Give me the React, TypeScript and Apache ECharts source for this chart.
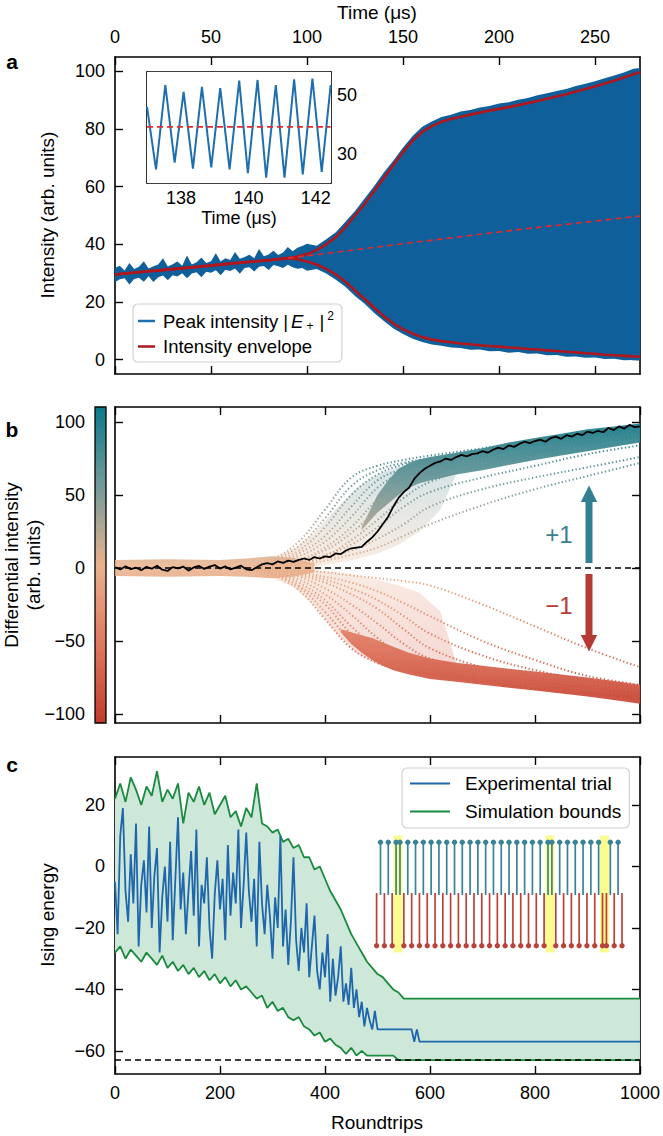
import React, { useEffect, useRef } from "react";
import * as echarts from "echarts";

const FONT = "'Liberation Sans', Arial, Helvetica, sans-serif";
const fmt = (v: number) => (v < 0 ? "\u2212" + Math.abs(v) : String(v));

// ---------------- Panel a ----------------
const timeTicks = [0, 50, 100, 150, 200, 250];
const intensityTicks = [0, 20, 40, 60, 80, 100];

const blueT = [
  0, 2.5, 5, 7.5, 10, 12.5, 15, 17.5, 20, 22.5, 25, 27.5, 30, 32.5, 35, 37.5, 40, 42.5, 45, 47.5,
  50, 52.5, 55, 57.5, 60, 62.5, 65, 67.5, 70, 72.5, 75, 77.5, 80, 82.5, 85, 87.5, 90, 92.5, 95, 97.5, 100,
  105, 110, 115, 120, 125, 130, 135, 140, 145, 150, 155, 160, 165, 170, 175, 180, 185, 190, 195, 200,
  205, 210, 215, 220, 225, 230, 235, 240, 245, 250, 255, 260, 265, 270, 273.4,
];
const blueHi = [
  31.8, 32.6, 30.9, 33.5, 31.4, 32.2, 34.1, 31.6, 32.4, 33.0, 35.2, 32.3, 33.1, 34.0, 32.6, 36.1, 33.0, 33.8, 35.4, 33.5,
  34.1, 36.9, 34.0, 35.2, 34.6, 37.3, 35.0, 35.6, 36.4, 35.2, 38.4, 35.9, 36.5, 37.8, 36.3, 37.2, 39.1, 37.6, 38.8, 39.4, 40.2,
  39.5, 41.8, 44.2, 47.8, 51.6, 55.9, 60.2, 64.9, 69.1, 73.6, 77.6, 80.8, 82.6, 84.2, 85.0, 86.1, 86.6, 87.5, 88.0, 88.9,
  89.3, 90.2, 90.8, 91.7, 92.4, 93.2, 93.9, 94.9, 95.7, 96.6, 97.6, 98.6, 99.6, 100.9, 101.2,
];
const blueLo = [
  26.8, 27.9, 28.2, 26.1, 28.0, 28.4, 27.0, 28.9, 26.9, 28.6, 29.2, 27.5, 29.3, 28.8, 30.0, 28.2, 29.9, 30.3, 28.6, 30.5,
  30.1, 31.0, 29.3, 31.2, 30.7, 31.6, 29.8, 31.8, 32.0, 30.6, 32.2, 32.5, 31.1, 32.8, 32.4, 31.8, 32.9, 32.0, 31.5, 31.8, 30.8,
  31.4, 29.9, 27.7, 25.3, 22.1, 19.4, 16.2, 13.4, 10.8, 8.9, 7.2, 6.1, 5.2, 4.8, 4.2, 4.0, 3.4, 3.5, 2.9, 3.0,
  2.4, 2.6, 2.0, 2.1, 1.5, 1.6, 1.0, 1.1, 0.6, 0.7, 0.2, 0.3, -0.2, -0.1, -0.3,
];
const envT = [
  0, 20, 40, 60, 80, 90, 95, 100, 105, 110, 115, 120, 125, 130, 135, 140, 145, 150, 155, 160, 165, 170,
  175, 180, 185, 190, 195, 200, 205, 210, 215, 220, 225, 230, 235, 240, 245, 250, 255, 260, 265, 270, 273.4,
];
const envUpper = [
  29.5, 30.8, 32.0, 33.3, 34.5, 35.2, 35.8, 36.6, 38, 40, 42.5, 46, 50, 54, 58.5, 63, 67.5, 72, 76, 79, 81, 82.5,
  83.5, 84.3, 85, 85.7, 86.4, 87, 87.6, 88.3, 89, 89.7, 90.5, 91.3, 92.1, 93, 93.9, 94.8, 95.8, 96.8, 97.9, 99, 99.7,
];
const envLower = [
  29.5, 30.8, 32.0, 33.3, 34.5, 35.2, 34.8, 34.0, 33, 31.5, 29.5, 27, 24, 21, 18, 15, 12.5, 10.5, 9, 7.8, 7, 6.4,
  6, 5.6, 5.3, 5, 4.7, 4.5, 4.2, 4, 3.7, 3.5, 3.2, 3, 2.7, 2.5, 2.2, 2, 1.7, 1.5, 1.3, 1.1, 1,
];
const meanT = [90, 150, 210, 273.4];
const meanV = [35.2, 40.2, 45.1, 49.8];

// inset
const insetT = [
  136.99, 137.257, 137.533, 137.81, 138.076, 138.353, 138.62, 138.896, 139.163, 139.44, 139.726,
  139.983, 140.27, 140.526, 140.812, 141.07, 141.356, 141.612, 141.899, 142.175, 142.44,
];
const insetV = [
  46, 24.8, 53.4, 27.1, 51.1, 25.1, 52.8, 25.5, 52.3, 24.8, 54.9, 23.5, 55.1, 22.0, 53.4, 22.0, 55.3, 23.1, 55.6, 24.0, 53.4,
];
const insetMean = 39.2;
const insetXTicks = [138, 140, 142];
const insetYTicks = [30, 50];

// ---------------- Panel b ----------------
const rtTicks = [0, 200, 400, 600, 800, 1000];
const diffTicks = [-100, -50, 0, 50, 100];
const B_MIN = -106.2;
const B_MAX = 110.3;

const noiseX = [0, 100, 200, 250, 300, 340, 380];
const noiseLo = [-5.5, -6, -5.5, -6, -7, -6, -3];
const noiseHi = [5.5, 6, 5.5, 6.5, 8, 7, 3];

const fanX = [270, 300, 340, 380, 420, 460, 500, 540, 580, 620, 650];
const fanUpLo = [0, 0, 0, 1, 3, 6, 10, 16, 25, 40, 64];
const fanUpHi = [4, 7, 13, 24, 40, 55, 64, 69, 73, 77, 79];
const fanDownLo = [-4, -7, -13, -26, -44, -58, -66, -70, -73, -75, -78];
const fanDownHi = [0, 0, 0, -1, -3, -5, -8, -12, -17, -30, -65];

const upX = [470, 500, 520, 540, 560, 580, 600, 650, 700, 750, 800, 850, 900, 950, 1000];
const upLo = [26, 38, 44, 50, 55, 58, 60, 64, 67, 70.5, 74, 77, 80, 83, 86];
const upHi = [28, 50, 60, 68, 72, 74.5, 76, 79, 82, 86, 89, 92, 95, 97, 99];

const downX = [430, 450, 470, 490, 510, 530, 560, 600, 650, 700, 750, 800, 850, 900, 950, 1000];
const downLo = [-44, -52, -58, -63, -67, -70, -73, -76, -78, -80, -82, -84, -86, -88, -90.5, -93];
const downHi = [-42, -44, -46, -48, -51, -54, -58, -62, -65, -67, -69, -71, -73, -75, -77.5, -80];

const trajX = [250, 300, 350, 400, 450, 500, 550, 600, 700, 800, 900, 1000];
const upTraj1 = [0, 6, 18, 40, 62, 70, 74, 77, 82, 88, 93, 97];
const upTraj2 = [0, 4, 12, 28, 50, 64, 71, 75, 80, 86, 92, 96];
const upTraj3 = [0, 3, 8, 18, 35, 55, 66, 72, 78, 84, 90, 94];
const upTraj4 = [0, 2, 6, 12, 24, 40, 55, 64, 73, 80, 87, 91];
const upTraj5 = [0, 1, 4, 9, 16, 28, 42, 52, 62, 70, 78, 84];
const upTraj6 = [0, 1, 3, 7, 12, 20, 30, 42, 54, 62, 69, 76];
const upTraj7 = [0, 0, 2, 5, 9, 14, 22, 30, 43, 54, 63, 72];
const upTraj8 = [0, 5, 15, 34, 56, 67, 72, 75, 81, 87, 92, 96];
const upTraj9 = [0, 3, 10, 22, 42, 60, 68, 73, 79, 85, 91, 95];
const upTraj10 = [0, 2, 5, 14, 28, 47, 61, 69, 76, 83, 89, 93];
const upTraj11 = [0, 1, 3, 8, 19, 33, 48, 59, 70, 78, 85, 90];
const downTraj1 = [0, -5, -15, -35, -55, -65, -70, -73, -78, -83, -86, -90];
const downTraj2 = [0, -4, -12, -25, -45, -58, -66, -70, -76, -80, -85, -88];
const downTraj3 = [0, -3, -8, -18, -32, -48, -60, -66, -73, -78, -82, -86];
const downTraj4 = [0, -2, -5, -10, -18, -28, -42, -55, -68, -75, -80, -84];
const downTraj5 = [0, -1, -3, -6, -10, -16, -24, -33, -50, -63, -74, -80];
const downTraj6 = [0, -1, -2, -3, -5, -7, -9, -12, -25, -40, -55, -68];
const downTraj7 = [0, -4, -13, -30, -50, -62, -68, -72, -77, -82, -86, -89];
const downTraj8 = [0, -3, -10, -22, -40, -55, -64, -69, -75, -80, -84, -88];
const downTraj9 = [0, -2, -6, -14, -25, -38, -52, -62, -71, -77, -82, -86];
const downTraj10 = [0, -1, -4, -8, -14, -22, -33, -45, -60, -70, -77, -82];

const trialX = [
  0, 10, 20, 30, 40, 50, 60, 70, 80, 90, 100, 110, 120, 130, 140, 150, 160, 170, 180, 190,
  200, 210, 220, 230, 240, 250, 260, 270, 280, 290, 300, 310, 320, 330, 340, 350, 360, 370, 380, 390,
  400, 410, 420, 430, 440, 450, 460, 470, 480, 490, 500, 510, 520, 530, 540, 550, 560, 570, 580, 590,
  600, 610, 620, 630, 640, 650, 660, 670, 680, 690, 700, 710, 720, 730, 740, 750, 760, 770, 780, 790,
  800, 810, 820, 830, 840, 850, 860, 870, 880, 890, 900, 910, 920, 930, 940, 950, 960, 970, 980, 990, 1000,
];
const trialDiff = [
  0.5, -1, 1.2, -0.8, 0.3, -1.5, 0.8, -0.5, 1.5, -1.2,
  -2, 0.6, -0.3, 1, -1.8, 0.4, 1.4, -0.6, 0.9, 2,
  -0.4, 1.1, -1, 0.2, 1.6, -0.9, -1.5, 0.5, 2.5, 3.4,
  2.5, 4.5, 3.5, 5, 4.2, 5.5, 6.5, 5.5, 7.5, 6.5,
  8, 7.5, 10, 9.5, 12, 13.5, 14, 14.5, 18, 21,
  25, 30, 35, 42, 48, 52, 55, 61, 65, 68,
  70, 72, 73, 75, 74, 76, 77.5, 76.5, 78, 78.5,
  80, 79, 81, 82.5, 81.5, 84, 83, 85, 86.5, 85.5,
  87, 88, 86.5, 89, 90, 88.5, 91, 90, 92, 91,
  93.5, 92.5, 94, 93, 96, 94.5, 97, 95.5, 98, 96.5, 97,
];

// ---------------- Panel c ----------------
const energyTicks = [-60, -40, -20, 0, 20];
const groundEnergy = -63;

const boundX = [
  0, 10, 20, 30, 40, 50, 60, 70, 80, 90, 100, 110, 120, 130, 140, 150, 160, 170, 180, 190,
  200, 210, 220, 230, 240, 250, 260, 270, 280, 290, 300, 310, 320, 330, 340, 350, 360, 370, 380, 390,
  400, 410, 420, 430, 440, 450, 460, 470, 480, 490, 500, 510, 520, 530, 540, 550, 560, 570, 580, 590, 600, 1000,
];
const boundHi = [
  22, 27, 21, 29, 25, 20, 26, 23, 31, 21, 25, 22, 27, 14, 24, 21, 26, 20, 24, 17,
  20, 23, 16, 18, 13, 19, 16, 27, 14, 13, 11, 12, 8, 9, 6, 7, 3, 3, -1, 0,
  -4, -8, -11, -14, -18, -22, -25, -28, -31, -33, -35, -36, -38, -40, -41, -43, -43, -43, -43, -43, -43, -43,
];
const boundLo = [
  -28, -26, -30, -27, -29, -31, -28, -30, -32, -29, -33, -31, -34, -32, -35, -33, -36, -34, -37, -35,
  -38, -36, -39, -37, -40, -39, -41, -43, -42, -46, -44, -47, -46, -49, -50, -49, -52, -53, -55, -54,
  -57, -56, -58, -59, -61, -59, -61.5, -60, -61.5, -61.5, -61.5, -61.5, -61.5, -61.5, -63, -63, -63, -63, -63, -63, -63, -63,
];
const expX = [
  0, 5, 10, 15, 20, 25, 30, 35, 40, 45, 50, 55, 60, 65, 70, 75, 80, 85, 90, 95,
  100, 105, 110, 115, 120, 125, 130, 135, 140, 145, 150, 155, 160, 165, 170, 175, 180, 185, 190, 195,
  200, 205, 210, 215, 220, 225, 230, 235, 240, 245, 250, 255, 260, 265, 270, 275, 280, 285, 290, 295,
  300, 305, 310, 315, 320, 325, 330, 335, 340, 345, 350, 355, 360, 365, 370, 375, 380, 385, 390, 395,
  400, 405, 410, 415, 420, 425, 430, 435, 440, 445, 450, 455, 460, 465, 470, 475, 480, 485, 490, 495,
  500, 505, 510, 515, 520, 525, 530, 535, 540, 545, 550, 555, 560, 565, 570, 575, 580, 1000,
];
const expE = [
  -5, -22, 10, 19, -8, -18, 4, -12, 14, -26,
  -6, 2, -15, 13, -20, -3, 6, -28, -10, 0,
  -18, 8, -24, -4, 16, -14, -2, -22, -8, 5,
  -16, 12, -26, -6, -12, 3, -20, -30, -9, 2,
  -14, -4, -24, 7, -16, -2, -12, 12, -20, -6,
  11, -8, -18, -4, -26, 8, -12, -22, -6, -16,
  -30, -10, -20, 10, -26, -14, -32, -18, 3, -24,
  -34, -20, -28, -12, -36, -26, -16, -34, -40, -28,
  -36, -22, -44, -30, -42, -36, -26, -44, -38, -45,
  -33, -46, -40, -49, -44, -52, -46, -50, -53, -47,
  -53, -53, -53, -53, -53, -53, -53, -53, -53, -53,
  -53, -53, -53, -53, -57, -53, -57, -57,
];

// spin configuration (inset in c)
const spins = [
  -1, 1, -1, 1, -1, 1, 1, -1, 1, -1, 1, -1, 1, -1, 1, -1, 1, -1, 1, -1,
  1, -1, 1, -1, 1, -1, 1, -1, 1, -1, 1, -1, 1, -1, 1, -1, 1, -1, 1, -1,
  1, -1, 1, -1, 1, 1, -1, 1, -1, 1, -1, 1, -1, 1, -1, 1, -1, 1, -1, -1,
  1, -1, 1, -1,
];
const frustrated = [[5, 6], [44, 45], [58, 59]];

// ---------------- colours ----------------
const BLUE_A = "#0f5f9a";
const BLUE_LINE = "#1f6fb0";
const RED_ENV = "#b0161c";
const RED_DASH = "#e42a2a";
const GREEN = "#1a8a3e";
const GREEN_FILL = "#cde7d8";
const BLUE_C = "#1f67ad";
const TEAL = "#3a8295";
const RED_SPIN = "#b9423a";
const CMAP = ["#c23b2d", "#df7860", "#e9b28d", "#72999a", "#0b7a8b"];

const pairs = (xs: number[], ys: number[]) => xs.map((x, i) => [x, ys[i]]);

function axis(o: any) {
  const { gridIndex, position, min, max, ticks, labels, margin } = o;
  return {
    type: "value",
    gridIndex,
    position,
    min,
    max,
    axisLine: { show: true, onZero: false, lineStyle: { color: "#000", width: 1.6 } },
    axisTick: ticks
      ? { show: true, inside: true, length: 8, lineStyle: { color: "#000", width: 1.4 }, customValues: ticks }
      : { show: false },
    axisLabel: labels
      ? { show: true, customValues: ticks, margin, fontSize: 18, color: "#000", fontFamily: FONT, formatter: (v: number) => fmt(v) }
      : { show: false },
    splitLine: { show: false },
    axisPointer: { show: false },
  };
}

const line = (o: any) => ({ type: "line", symbol: "none", showSymbol: false, silent: true, animation: false, ...o });

// filled band between lo and hi, drawn as one polygon through the axes' scales
function band(name: string, xs: number[], lo: number[], hi: number[], xi: number, yi: number, fill: any, opacity = 1, z = 2) {
  return {
    type: "custom",
    name,
    xAxisIndex: xi,
    yAxisIndex: yi,
    silent: true,
    z,
    data: xs.map((x, i) => [x, lo[i], hi[i]]),
    encode: { x: 0, y: [1, 2] },
    renderItem: (params: any, api: any) => {
      if (params.dataIndexInside !== 0) return null;
      const n = params.dataInsideLength;
      const top: number[][] = [];
      const bot: number[][] = [];
      for (let j = 0; j < n; j++) {
        const x = api.value(0, j);
        top.push(api.coord([x, api.value(2, j)]));
        bot.push(api.coord([x, api.value(1, j)]));
      }
      const f = typeof fill === "function" ? fill(api) : fill;
      return {
        type: "polygon",
        shape: { points: top.concat(bot.reverse()) },
        style: { fill: f, opacity, stroke: "none" },
      };
    },
  };
}

const cmapFill = (api: any) => {
  const top = api.coord([0, B_MAX])[1];
  const bot = api.coord([0, B_MIN])[1];
  return new echarts.graphic.LinearGradient(
    0, top, 0, bot,
    [
      { offset: 0, color: CMAP[4] },
      { offset: 0.25, color: CMAP[3] },
      { offset: 0.5, color: CMAP[2] },
      { offset: 0.75, color: CMAP[1] },
      { offset: 1, color: CMAP[0] },
    ],
    true
  );
};

function buildOption() {
  const series: any[] = [];
  const vmIdx: number[] = [];
  const push = (s: any, vm = false) => {
    if (vm) vmIdx.push(series.length);
    series.push(s);
  };

  // ----- panel a -----
  push(band("Peak intensity", blueT, blueLo, blueHi, 0, 0, BLUE_A));
  push(line({ name: "Intensity envelope", xAxisIndex: 0, yAxisIndex: 0, data: pairs(envT, envUpper), lineStyle: { color: RED_ENV, width: 2.6 }, itemStyle: { color: RED_ENV }, z: 3 }));
  push(line({ name: "_envLow", xAxisIndex: 0, yAxisIndex: 0, data: pairs(envT, envLower), lineStyle: { color: RED_ENV, width: 2.6 }, itemStyle: { color: RED_ENV }, z: 3 }));
  push(line({ name: "_mean", xAxisIndex: 0, yAxisIndex: 0, data: pairs(meanT, meanV), lineStyle: { color: RED_DASH, width: 1.6, type: [6, 4] }, z: 3 }));

  // inset
  push(line({ name: "_inset", xAxisIndex: 2, yAxisIndex: 2, data: pairs(insetT, insetV), lineStyle: { color: BLUE_LINE, width: 2 }, z: 5 }));
  push(line({ name: "_insetMean", xAxisIndex: 2, yAxisIndex: 2, data: [[insetT[0], insetMean], [insetT[insetT.length - 1], insetMean]], lineStyle: { color: RED_DASH, width: 1.6, type: [6, 4] }, z: 6 }));

  // ----- panel b -----
  push(band("_noise", noiseX, noiseLo, noiseHi, 4, 4, cmapFill, 0.85));
  push(band("_fanUp", fanX, fanUpLo, fanUpHi, 4, 4, cmapFill, 0.25));
  push(band("_fanDown", fanX, fanDownLo, fanDownHi, 4, 4, cmapFill, 0.25));
  push(band("_up", upX, upLo, upHi, 4, 4, cmapFill, 0.95));
  push(band("_down", downX, downLo, downHi, 4, 4, cmapFill, 0.95));
  const trajs = [
    upTraj1, upTraj2, upTraj3, upTraj4, upTraj5, upTraj6, upTraj7, upTraj8, upTraj9, upTraj10, upTraj11,
    downTraj1, downTraj2, downTraj3, downTraj4, downTraj5, downTraj6, downTraj7, downTraj8, downTraj9, downTraj10,
  ];
  trajs.forEach((tr, k) => {
    push(line({ name: "_traj" + k, xAxisIndex: 4, yAxisIndex: 4, data: pairs(trajX, tr), smooth: 0.4, lineStyle: { width: 2, type: [1.3, 2.4] }, z: 3 }), true);
  });
  push(line({
    name: "_trial", xAxisIndex: 4, yAxisIndex: 4, data: pairs(trialX, trialDiff), lineStyle: { color: "#000", width: 1.8 }, itemStyle: { color: "#000" }, z: 5,
    markLine: { silent: true, symbol: "none", label: { show: false }, lineStyle: { color: "#000", type: [6, 4], width: 1.5 }, data: [{ yAxis: 0 }] },
  }));

  // ----- panel c -----
  push(band("_gFill", boundX, boundLo, boundHi, 6, 6, GREEN_FILL));
  push(line({ name: "Simulation bounds", xAxisIndex: 6, yAxisIndex: 6, data: pairs(boundX, boundHi), lineStyle: { color: GREEN, width: 1.8 }, itemStyle: { color: GREEN }, z: 3 }));
  push(line({ name: "Simulation bounds", xAxisIndex: 6, yAxisIndex: 6, data: pairs(boundX, boundLo), lineStyle: { color: GREEN, width: 1.8 }, itemStyle: { color: GREEN }, z: 3 }));
  push(line({
    name: "Experimental trial", xAxisIndex: 6, yAxisIndex: 6, data: pairs(expX, expE), lineStyle: { color: BLUE_C, width: 1.8 }, itemStyle: { color: BLUE_C }, z: 4,
    markLine: { silent: true, symbol: "none", label: { show: false }, lineStyle: { color: "#000", type: [6, 4], width: 1.5 }, data: [{ yAxis: groundEnergy }] },
  }));

  // spins
  push({
    type: "custom", name: "_yellow", xAxisIndex: 8, yAxisIndex: 8, silent: true, z: 6,
    data: frustrated,
    renderItem: (params: any, api: any) => {
      const a = api.value(0), b = api.value(1);
      const p1 = api.coord([a - 0.65, 1.13]);
      const p2 = api.coord([b + 0.65, -1.13]);
      return { type: "rect", shape: { x: p1[0], y: p1[1], width: p2[0] - p1[0], height: p2[1] - p1[1] }, style: { fill: "#fbfb8e" } };
    },
  });
  push({
    type: "custom", name: "_spins", xAxisIndex: 8, yAxisIndex: 8, silent: true, z: 7,
    data: spins.map((s, i) => [i, s]),
    renderItem: (params: any, api: any) => {
      const i = api.value(0), s = api.value(1);
      const p0 = api.coord([i, 0]);
      const p1 = api.coord([i, s]);
      const c = s > 0 ? TEAL : RED_SPIN;
      return {
        type: "group",
        children: [
          { type: "line", shape: { x1: p0[0], y1: p0[1] + (s > 0 ? 1 : -1), x2: p1[0], y2: p1[1] }, style: { stroke: c, lineWidth: 1.7 } },
          { type: "circle", shape: { cx: p1[0], cy: p1[1], r: 2.7 }, style: { fill: c } },
        ],
      };
    },
  });

  const xAxis = [
    axis({ gridIndex: 0, position: "top", min: 0, max: 273.4, ticks: timeTicks, labels: true, margin: 11 }),
    axis({ gridIndex: 0, position: "bottom", min: 0, max: 273.4, ticks: timeTicks }),
    axis({ gridIndex: 1, position: "bottom", min: 136.99, max: 142.45, ticks: insetXTicks, labels: true, margin: 6 }),
    axis({ gridIndex: 1, position: "top", min: 136.99, max: 142.45, ticks: insetXTicks }),
    axis({ gridIndex: 2, position: "bottom", min: 0, max: 1000, ticks: rtTicks }),
    axis({ gridIndex: 2, position: "top", min: 0, max: 1000, ticks: rtTicks }),
    axis({ gridIndex: 3, position: "bottom", min: 0, max: 1000, ticks: rtTicks, labels: true, margin: 10 }),
    axis({ gridIndex: 3, position: "top", min: 0, max: 1000, ticks: rtTicks }),
    { type: "value", gridIndex: 4, min: -1, max: 64, show: false },
  ];
  const yAxis = [
    axis({ gridIndex: 0, position: "left", min: -5, max: 105, ticks: intensityTicks, labels: true, margin: 10 }),
    axis({ gridIndex: 0, position: "right", min: -5, max: 105, ticks: intensityTicks }),
    axis({ gridIndex: 1, position: "right", min: 20.2, max: 57.8, ticks: insetYTicks, labels: true, margin: 6 }),
    axis({ gridIndex: 1, position: "left", min: 20.2, max: 57.8 }),
    axis({ gridIndex: 2, position: "left", min: B_MIN, max: B_MAX, ticks: diffTicks, labels: true, margin: 30 }),
    axis({ gridIndex: 2, position: "right", min: B_MIN, max: B_MAX, ticks: diffTicks }),
    axis({ gridIndex: 3, position: "left", min: -67.5, max: 35.6, ticks: energyTicks, labels: true, margin: 10 }),
    axis({ gridIndex: 3, position: "right", min: -67.5, max: 35.6, ticks: energyTicks }),
    { type: "value", gridIndex: 4, min: -1.12, max: 1.12, show: false },
  ];

  const txt = (text: string, x: number, y: number, extra: any = {}) => ({
    type: "text", x, y, silent: true, z: 100,
    rotation: extra.rotation || 0,
    style: {
      text, fontSize: extra.fontSize || 19, fontFamily: FONT, fontWeight: extra.fontWeight || "normal", fill: extra.fill || "#000",
      align: "center", verticalAlign: "middle", textAlign: "center", textVerticalAlign: "middle",
    },
  });

  const graphic = [
    txt("Time (μs)", 377, 12),
    txt("Intensity (arb. units)", 47, 215, { rotation: Math.PI / 2 }),
    txt("Time (μs)", 239, 218, { fontSize: 18 }),
    txt("Differential intensity", 11, 565, { rotation: Math.PI / 2 }),
    txt("(arb. units)", 33, 565, { rotation: Math.PI / 2 }),
    txt("Ising energy", 47, 915, { rotation: Math.PI / 2 }),
    txt("Roundtrips", 377, 1122),
    txt("a", 12, 61, { fontWeight: "bold", fontSize: 21 }),
    txt("b", 12, 429, { fontWeight: "bold", fontSize: 21 }),
    txt("c", 12, 764, { fontWeight: "bold", fontSize: 21 }),
    txt("+1", 559, 534, { fontSize: 24, fill: "#3b7f90" }),
    txt("\u22121", 559, 605, { fontSize: 24, fill: "#b43a33" }),
    { type: "rect", z: 100, shape: { x: 585.5, y: 500, width: 7, height: 63 }, style: { fill: "#327f91" } },
    { type: "polygon", z: 100, shape: { points: [[580.8, 502], [597.2, 502], [589, 485.5]] }, style: { fill: "#327f91" } },
    { type: "rect", z: 100, shape: { x: 585.5, y: 574, width: 7, height: 63 }, style: { fill: "#b43a33" } },
    { type: "polygon", z: 100, shape: { points: [[580.8, 635], [597.2, 635], [589, 651.5]] }, style: { fill: "#b43a33" } },
    { type: "rect", z: 100, shape: { x: 95, y: 407, width: 11, height: 316 }, style: { fill: "none", stroke: "#000", lineWidth: 1.3 } },
  ];

  const legendText = { fontSize: 19, fontFamily: FONT, color: "#000" };

  return {
    animation: false,
    textStyle: { fontFamily: FONT },
    grid: [
      { left: 115, top: 57, width: 525, height: 317 },
      { left: 147, top: 72, width: 184, height: 111, show: true, backgroundColor: "#fff", borderWidth: 0, z: 4 },
      { left: 115, top: 407, width: 525, height: 316 },
      { left: 115, top: 757, width: 525, height: 317 },
      { left: 372.7, top: 836, width: 253.2, height: 116 },
    ],
    xAxis,
    yAxis,
    visualMap: [{
      type: "continuous", min: B_MIN, max: B_MAX, dimension: 1, seriesIndex: vmIdx,
      inRange: { color: CMAP },
      calculable: false, hoverLink: false, left: 95, top: 407, itemWidth: 11, itemHeight: 316, padding: 0, text: null, orient: "vertical",
    }],
    legend: [
      {
        orient: "vertical", left: 133, top: 304, selectedMode: false, itemWidth: 17, itemHeight: 2.5, itemGap: 5,
        padding: [6, 8, 6, 5], borderColor: "#d2d2d2", borderWidth: 1.2, borderRadius: 5, backgroundColor: "rgba(255,255,255,0.85)",
        textStyle: {
          ...legendText,
          padding: [0, 0, 0, 3],
          rich: {
            n: { fontSize: 18.5, fontFamily: FONT, lineHeight: 22 },
            i: { fontSize: 18.5, fontFamily: FONT, fontStyle: "italic", lineHeight: 22, padding: [0, 0, 0, 3] },
            s: { fontSize: 12, fontFamily: FONT, verticalAlign: "bottom", lineHeight: 22, padding: [0, 6, 0, 3] },
            p: { fontSize: 12, fontFamily: FONT, verticalAlign: "top", lineHeight: 22, padding: [0, 0, 0, 3] },
          },
        },
        formatter: (name: string) => (name === "Peak intensity" ? "{n|Peak intensity |}{i|E}{s|+}{n||}{p|2}" : "{n|" + name + "}"),
        data: [
          { name: "Peak intensity", icon: "rect", itemStyle: { color: BLUE_LINE } },
          { name: "Intensity envelope", icon: "rect", itemStyle: { color: RED_ENV } },
        ],
      },
      {
        orient: "vertical", left: 402, top: 768, selectedMode: false, itemWidth: 40, itemHeight: 2, itemGap: 9,
        padding: [6, 8, 7, 8], borderColor: "#d2d2d2", borderWidth: 1.2, borderRadius: 5, backgroundColor: "rgba(255,255,255,0.85)",
        textStyle: { ...legendText, padding: [0, 0, 0, 10] },
        data: [
          { name: "Experimental trial", icon: "rect", itemStyle: { color: BLUE_C } },
          { name: "Simulation bounds", icon: "rect", itemStyle: { color: GREEN } },
        ],
      },
    ],
    series,
    graphic,
  };
}

export default function App() {
  const ref = useRef<HTMLDivElement>(null);
  useEffect(() => {
    document.body.style.margin = "0";
    const chart = echarts.init(ref.current as HTMLDivElement, null, { renderer: "svg" });
    chart.setOption(buildOption() as any);
    return () => chart.dispose();
  }, []);
  return <div ref={ref} style={{ width: 663, height: 1136 }} />;
}
